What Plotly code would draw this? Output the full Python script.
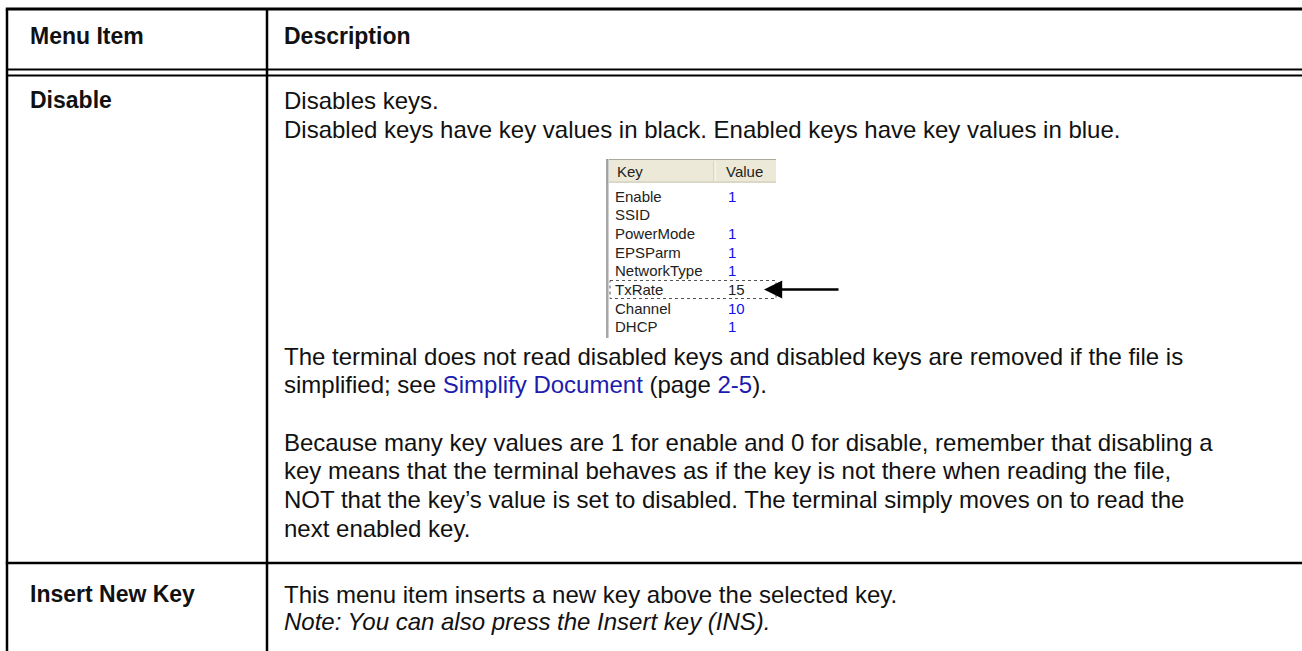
import plotly.graph_objects as go

W, H = 1302, 651

# ---- table content ----
header_labels = ["Menu Item", "Description"]
menu_items = ["Disable", "Insert New Key"]
disable_lines_top = [
    "Disables keys.",
    "Disabled keys have key values in black. Enabled keys have key values in blue.",
]
disable_lines_mid = [
    "The terminal does not read disabled keys and disabled keys are removed if the file is",
    "simplified; see <span style='color:#1c1cae'>Simplify Document</span> (page <span style='color:#1c1cae'>2-5</span>).",
]
disable_lines_bottom = [
    "Because many key values are 1 for enable and 0 for disable, remember that disabling a",
    "key means that the terminal behaves as if the key is not there when reading the file,",
    "NOT that the key\u2019s value is set to disabled. The terminal simply moves on to read the",
    "next enabled key.",
]
insert_lines = [
    "This menu item inserts a new key above the selected key.",
    "<i>Note: You can also press the Insert key (INS).</i>",
]

# ---- embedded key list screenshot ----
list_keys = ["Enable", "SSID", "PowerMode", "EPSParm", "NetworkType", "TxRate", "Channel", "DHCP"]
list_values = ["1", "", "1", "1", "1", "15", "10", "1"]
list_enabled = [True, True, True, True, True, False, True, True]
list_headers = ["Key", "Value"]

# ---- layout geometry ----
X_LEFT, X_DIV = 7, 267
TX1, TX2 = 28, 282
Y_TOP, Y_HDR_TEXT = 9, 36
Y_DBL = (69.5, 75.5)
Y_ROW2 = 563

BODY_FONT = dict(family="Liberation Sans, Arial, Helvetica, sans-serif", size=24, color="#111111")
BOLD_FONT = dict(family="Liberation Sans, Arial, Helvetica, sans-serif", size=23, color="#111111")
LIST_FONT = dict(family="Liberation Sans, Tahoma, sans-serif", size=15, color="#222222")

fig = go.Figure()
shapes = []
annotations = []

def hline(y, x0, x1, w=2.5, color="black", dash=None):
    shapes.append(dict(type="line", x0=x0, x1=x1, y0=y, y1=y, xref="x", yref="y",
                       line=dict(color=color, width=w, dash=dash)))

def vline(x, y0, y1, w=2.5, color="black"):
    shapes.append(dict(type="line", x0=x, x1=x, y0=y0, y1=y1, xref="x", yref="y",
                       line=dict(color=color, width=w)))

def text(x, y, s, font, bold=False):
    annotations.append(dict(x=x, y=y, xref="x", yref="y", text=("<b>%s</b>" % s) if bold else s,
                            showarrow=False, xanchor="left", yanchor="middle", font=font, align="left"))

# table borders
hline(Y_TOP, X_LEFT - 1.2, W, w=3)
hline(Y_DBL[0], X_LEFT, W, w=2.2)
hline(Y_DBL[1], X_LEFT, W, w=2.2)
hline(Y_ROW2, X_LEFT - 1.2, W, w=2.5)
vline(X_LEFT, Y_TOP, H)
vline(X_DIV, Y_TOP, H)

# header
text(TX1, Y_HDR_TEXT, header_labels[0], BOLD_FONT, bold=True)
text(TX2, Y_HDR_TEXT, header_labels[1], BOLD_FONT, bold=True)

# row 1
text(TX1, 100, menu_items[0], BOLD_FONT, bold=True)
for i, s in enumerate(disable_lines_top):
    text(TX2, 100 + i * 29, s, BODY_FONT)
for i, s in enumerate(disable_lines_mid):
    text(TX2, 356 + i * 28, s, BODY_FONT)
for i, s in enumerate(disable_lines_bottom):
    text(TX2, 442 + i * 28.7, s, BODY_FONT)

# row 2
text(TX1, 594, menu_items[1], BOLD_FONT, bold=True)
for i, s in enumerate(insert_lines):
    text(TX2, 594 + i * 27, s, BODY_FONT)

# screenshot box
BX0, BX1 = 607, 776
BY0, BHDR = 159, 183
COL2 = 716
ROW0, ROWSTEP = 196, 18.7
shapes.append(dict(type="rect", x0=BX0, x1=BX1, y0=BY0, y1=BHDR, xref="x", yref="y",
                   fillcolor="#ece9d8", line=dict(width=0), layer="below"))
hline(BY0 + 0.5, BX0, BX1, w=1, color="#aca899")
hline(BHDR - 1, BX0, BX1, w=1.5, color="#d6d2c2")
vline(COL2 - 2, BY0 + 2, BHDR - 2, w=1, color="#c7c5b2")
vline(COL2 - 1, BY0 + 2, BHDR - 2, w=1, color="#ffffff")
vline(BX0, BY0, 338, w=1.5, color="#8a8a8a")
vline(BX0 + 1.5, BY0, 338, w=1, color="#cfcfcf")
text(615, (BY0 + BHDR) / 2, list_headers[0], LIST_FONT)
text(COL2 + 8, (BY0 + BHDR) / 2, list_headers[1], LIST_FONT)
for i, (k, v, en) in enumerate(zip(list_keys, list_values, list_enabled)):
    y = ROW0 + i * ROWSTEP
    text(613, y, k, LIST_FONT)
    if v:
        text(COL2 + 10, y, v, dict(LIST_FONT, color="#1010f0" if en else "#222222"))
    if not en:
        shapes.append(dict(type="rect", x0=BX0 + 3, x1=BX1, y0=y - 9, y1=y + 9, xref="x", yref="y",
                           line=dict(color="#555555", width=1, dash="dot"), fillcolor="rgba(0,0,0,0)"))
        annotations.append(dict(x=764, y=y, ax=840, ay=y, xref="x", yref="y", axref="x", ayref="y",
                                text="", showarrow=True, arrowhead=2, arrowsize=1.4, arrowwidth=2.6,
                                arrowcolor="black"))

fig.update_layout(
    width=W, height=H, margin=dict(l=0, r=0, t=0, b=0),
    paper_bgcolor="white", plot_bgcolor="white",
    xaxis=dict(range=[0, W], visible=False, fixedrange=True),
    yaxis=dict(range=[H, 0], visible=False, fixedrange=True),
    shapes=shapes, annotations=annotations, showlegend=False,
)
fig.write_html("out.html", config={"displayModeBar": False},
               post_script="document.body.style.margin='0px';document.body.style.overflow='hidden';")
